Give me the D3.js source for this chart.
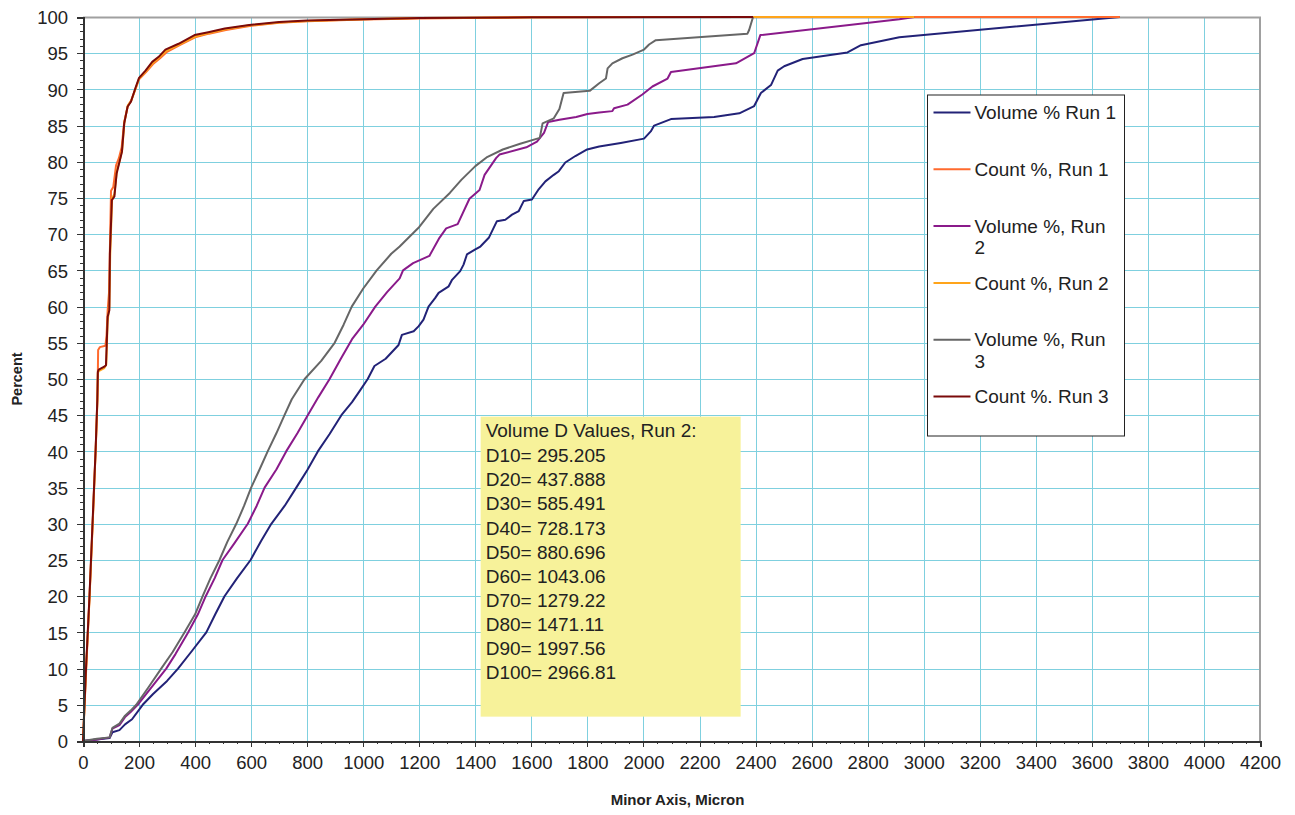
<!DOCTYPE html>
<html>
<head>
<meta charset="utf-8">
<script src="https://cdn.jsdelivr.net/npm/d3@7"></script>
<style>
  body { margin: 0; background: #fff; }
  text { font-family: "Liberation Sans", Arial, sans-serif; fill: #222; }
  .grid line { stroke: #7fd0df; stroke-width: 1; shape-rendering: crispEdges; }
  .axis path, .axis line { stroke: #333; shape-rendering: crispEdges; }
  .axis text { font-size: 18.5px; fill: #222; }
  .series { fill: none; stroke-width: 2; stroke-linejoin: round; }
</style>
</head>
<body>
<script>
// series, [micron, percent]
var volumeRun1 = [[0,0],[50,0.2],[95,0.4],[105,1.2],[130,1.5],[150,2.3],[175,3],[213,5],[250,6.5],[300,8.3],[339,10],[390,12.5],[440,15],[472,17.5],[505,20],[550,22.5],[598,25],[635,27.6],[672,30],[720,32.5],[761,35],[800,37.4],[838,40],[880,42.4],[922,45],[960,46.8],[990,48.5],[1016,50],[1040,51.8],[1080,52.8],[1126,54.7],[1138,56.1],[1180,56.6],[1198,57.3],[1215,58.2],[1233,60],[1257,61.2],[1269,61.9],[1305,62.8],[1317,63.7],[1346,64.9],[1358,65.8],[1370,67.2],[1400,67.9],[1418,68.3],[1448,69.5],[1477,71.8],[1507,72],[1531,72.7],[1555,73.2],[1573,74.6],[1602,74.8],[1626,76.2],[1650,77.3],[1680,78.2],[1698,78.7],[1721,79.9],[1757,80.8],[1799,81.7],[1842,82.1],[1919,82.6],[2002,83.2],[2026,84.2],[2038,85],[2098,85.9],[2252,86.2],[2342,86.7],[2395,87.7],[2419,89.5],[2455,90.6],[2479,92.6],[2502,93.2],[2568,94.2],[2728,95.1],[2776,96.1],[2913,97.2],[3700,100]];

var countRun1 = [[0,0],[12,10.5],[24,20.5],[36,31.5],[46,41],[52,48],[54,54],[60,54.4],[80,54.6],[84,56],[88,59.5],[93,62],[96,68],[100,76],[108,76.5],[118,79.5],[128,80.5],[138,82],[147,85.5],[160,87.7],[172,88.5],[190,90.3],[200,91.4],[225,92.4],[250,93.5],[275,94.3],[300,95.2],[345,96.1],[400,97.2],[450,97.7],[510,98.2],[600,98.8],[700,99.2],[800,99.4],[1000,99.65],[1200,99.8],[1600,99.95],[2000,100],[3700,100]];

var volumeRun2 = [[0,0],[50,0.2],[95,0.5],[105,1.7],[130,2.2],[150,3.3],[170,4],[195,5],[240,7.2],[297,10],[330,12],[375,15],[410,17.5],[438,20],[470,22.5],[498,25],[540,27.3],[588,30],[620,32.5],[648,35],[690,37.5],[725,40],[765,42.5],[802,45],[840,47.5],[880,50],[920,52.8],[960,55.5],[1000,57.5],[1043,60],[1085,62],[1130,63.9],[1142,65],[1178,66],[1236,67],[1272,69.5],[1296,70.8],[1337,71.4],[1379,74.9],[1415,76.1],[1433,78.2],[1474,80.5],[1486,81],[1582,82],[1620,82.8],[1645,84],[1660,85.5],[1700,85.8],[1760,86.2],[1800,86.6],[1842,86.8],[1889,87],[1895,87.4],[1943,87.9],[1996,89.3],[2032,90.4],[2086,91.5],[2098,92.4],[2330,93.6],[2395,95],[2417,97.5],[2913,99.7],[2967,100]];

var countRun2 = [[0,0],[11,10],[23,19.5],[35,30.5],[45,40],[51,46.5],[53,50.8],[56,51.1],[76,51.5],[83,52],[88,58],[94,60],[97,67],[104,75],[112,75.5],[121,78.8],[130,80],[140,81.7],[148,85.5],[160,87.8],[172,88.4],[190,90.4],[200,91.5],[224,92.5],[248,93.6],[272,94.4],[296,95.3],[343,96.2],[400,97.3],[450,97.8],[508,98.3],[595,98.85],[700,99.25],[800,99.45],[1000,99.7],[1200,99.85],[1600,99.95],[2000,100],[2967,100]];

var volumeRun3 = [[0,0],[50,0.3],[95,0.5],[105,1.8],[130,2.4],[150,3.5],[170,4.2],[190,5],[235,7.5],[279,10],[320,12.3],[362,15],[400,17.5],[427,20],[455,22.5],[487,25],[515,27.5],[547,30],[575,32.5],[600,35],[630,37.5],[659,40],[690,42.5],[719,45],[745,47.2],[791,50],[850,52.5],[898,55],[930,57.5],[959,60],[1000,62.5],[1048,65],[1100,67.3],[1130,68.3],[1200,71],[1250,73.5],[1309,75.7],[1350,77.5],[1400,79.4],[1440,80.6],[1498,81.7],[1560,82.5],[1630,83.3],[1640,85.3],[1680,86],[1700,87.3],[1715,89.5],[1808,89.8],[1842,90.85],[1866,91.5],[1872,92.9],[1889,93.6],[1925,94.3],[1961,94.8],[2002,95.5],[2020,96.2],[2044,96.8],[2371,97.7],[2377,98.2],[2391,100]];

var countRun3 = [[0,0],[11,10.3],[23,19.9],[35,31],[45,40.2],[51,47],[53,51],[56,51.3],[76,51.7],[82,51.9],[88,58.6],[94,59.5],[96,67.3],[103,74.7],[112,75.2],[120,78.4],[129,79.8],[139,81.4],[147,85.3],[159,87.6],[171,88.3],[188,90.3],[200,91.6],[223,92.6],[247,93.8],[270,94.5],[294,95.5],[341,96.3],[398,97.5],[447,97.9],[506,98.4],[593,98.9],[700,99.3],[800,99.5],[1000,99.7],[1200,99.85],[1600,99.95],[2391,100]];

var seriesNames = ["Volume % Run 1", "Count %, Run 1", "Volume %, Run 2", "Count %, Run 2", "Volume %, Run 3", "Count %. Run 3"];
var seriesData = [volumeRun1, countRun1, volumeRun2, countRun2, volumeRun3, countRun3];
var seriesColors = ["#222277", "#ff6a2e", "#8a1a8a", "#ffa41a", "#666666", "#7a0a0a"];

var dTitle = "Volume D Values, Run 2:";
var dLabels = ["D10", "D20", "D30", "D40", "D50", "D60", "D70", "D80", "D90", "D100"];
var dValues = ["295.205", "437.888", "585.491", "728.173", "880.696", "1043.06", "1279.22", "1471.11", "1997.56", "2966.81"];

var xTicks = d3.range(0, 4201, 200);
var yTicks = d3.range(0, 101, 5);

// dimensions
var margin = {top: 17, right: 35, bottom: 74, left: 83},
    width = 1295 - margin.left - margin.right,
    height = 815 - margin.top - margin.bottom;

var x = d3.scaleLinear().domain([0, 4200]).range([0, width]);
var y = d3.scaleLinear().domain([0, 100]).range([height, 0]);

var svg = d3.select("body").append("svg")
    .attr("width", 1295)
    .attr("height", 815)
  .append("g")
    .attr("transform", "translate(" + margin.left + "," + margin.top + ")");

// gridlines
var grid = svg.append("g").attr("class", "grid");
grid.selectAll(".gx")
    .data(xTicks.slice(1))
  .enter().append("line")
    .attr("x1", function(d) { return Math.round(x(d)) + 0.5; })
    .attr("x2", function(d) { return Math.round(x(d)) + 0.5; })
    .attr("y1", 0)
    .attr("y2", height);
grid.selectAll(".gy")
    .data(yTicks.slice(1, -1))
  .enter().append("line")
    .attr("y1", function(d) { return Math.round(y(d)) + 0.5; })
    .attr("y2", function(d) { return Math.round(y(d)) + 0.5; })
    .attr("x1", 0)
    .attr("x2", width);

// plot frame top / right
svg.append("path")
    .attr("d", "M0,0.5H" + width + "V" + height)
    .attr("fill", "none")
    .attr("stroke", "#a0a0a0")
    .attr("stroke-width", 2);

// D values box
var box = svg.append("g")
    .attr("transform", "translate(" + x(1419) + "," + y(44.8) + ")");
box.append("rect")
    .attr("width", 260)
    .attr("height", 300)
    .attr("fill", "#f7f29a");
box.append("text")
    .attr("x", 5)
    .attr("y", 20.5)
    .style("font-size", "19px")
    .text(dTitle);
box.selectAll(".dv")
    .data(dLabels)
  .enter().append("text")
    .attr("x", 5)
    .attr("y", function(d, i) { return 45.5 + i * 24.15; })
    .style("font-size", "19px")
    .text(function(d, i) { return d + "= " + dValues[i]; });

// lines
var line = d3.line()
    .x(function(d) { return x(d[0]); })
    .y(function(d) { return y(d[1]); });

svg.selectAll(".series")
    .data(seriesData)
  .enter().append("path")
    .attr("class", "series")
    .attr("stroke", function(d, i) { return seriesColors[i]; })
    .attr("d", line);

// axes
var xAxis = d3.axisBottom(x).tickValues(xTicks).tickSize(6).tickPadding(9).tickFormat(d3.format("d"));
var xMinor = d3.axisBottom(x).tickValues(d3.range(0, 4201, 50)).tickSize(3).tickFormat("");
var yAxis = d3.axisLeft(y).tickValues(yTicks).tickSize(6).tickPadding(9).tickFormat(d3.format("d"));
var yMinor = d3.axisLeft(y).tickValues(d3.range(0, 101, 1)).tickSize(3).tickFormat("");

svg.append("g").attr("class", "axis")
    .attr("transform", "translate(0," + height + ")")
    .call(xMinor)
    .select(".domain").remove();
svg.append("g").attr("class", "axis")
    .call(yMinor)
    .select(".domain").remove();

var gX = svg.append("g")
    .attr("class", "axis")
    .attr("transform", "translate(0," + height + ")")
    .call(xAxis);
gX.select(".domain").attr("stroke-width", 2);

var gY = svg.append("g")
    .attr("class", "axis")
    .call(yAxis);
gY.select(".domain").attr("stroke-width", 2);
gY.selectAll("text").attr("dy", "0.36em");

// axis titles
svg.append("text")
    .attr("x", width / 2 + 6)
    .attr("y", height + 64)
    .attr("text-anchor", "middle")
    .style("font-size", "15px")
    .style("font-weight", "bold")
    .text("Minor Axis, Micron");

svg.append("text")
    .attr("transform", "translate(" + (-61) + "," + (height / 2) + ") rotate(-90)")
    .attr("text-anchor", "middle")
    .style("font-size", "14.5px")
    .style("font-weight", "bold")
    .text("Percent");

// legend
var legend = svg.append("g")
    .attr("transform", "translate(" + (927.5 - margin.left) + "," + (95 - margin.top) + ")");
legend.append("rect")
    .attr("width", 197)
    .attr("height", 341)
    .attr("fill", "#fff")
    .attr("stroke", "#222")
    .attr("stroke-width", 1);

var item = legend.selectAll(".item")
    .data(seriesNames)
  .enter().append("g")
    .attr("transform", function(d, i) { return "translate(0," + (17.5 + i * 56.8) + ")"; });

item.append("line")
    .attr("x1", 6)
    .attr("x2", 43)
    .attr("stroke", function(d, i) { return seriesColors[i]; })
    .attr("stroke-width", 2);

item.each(function(d) {
  var t = d3.select(this).append("text")
      .attr("x", 47)
      .attr("dy", "0.35em")
      .style("font-size", "19px")
      .text(d);
  // wrap the last word if too wide
  if (t.node().getComputedTextLength() > 145) {
    var words = d.split(" ");
    var last = words.pop();
    t.text(words.join(" "));
    d3.select(this).append("text")
        .attr("x", 47)
        .attr("y", 21.7)
        .attr("dy", "0.35em")
        .style("font-size", "19px")
        .text(last);
  }
});
</script>
</body>
</html>
